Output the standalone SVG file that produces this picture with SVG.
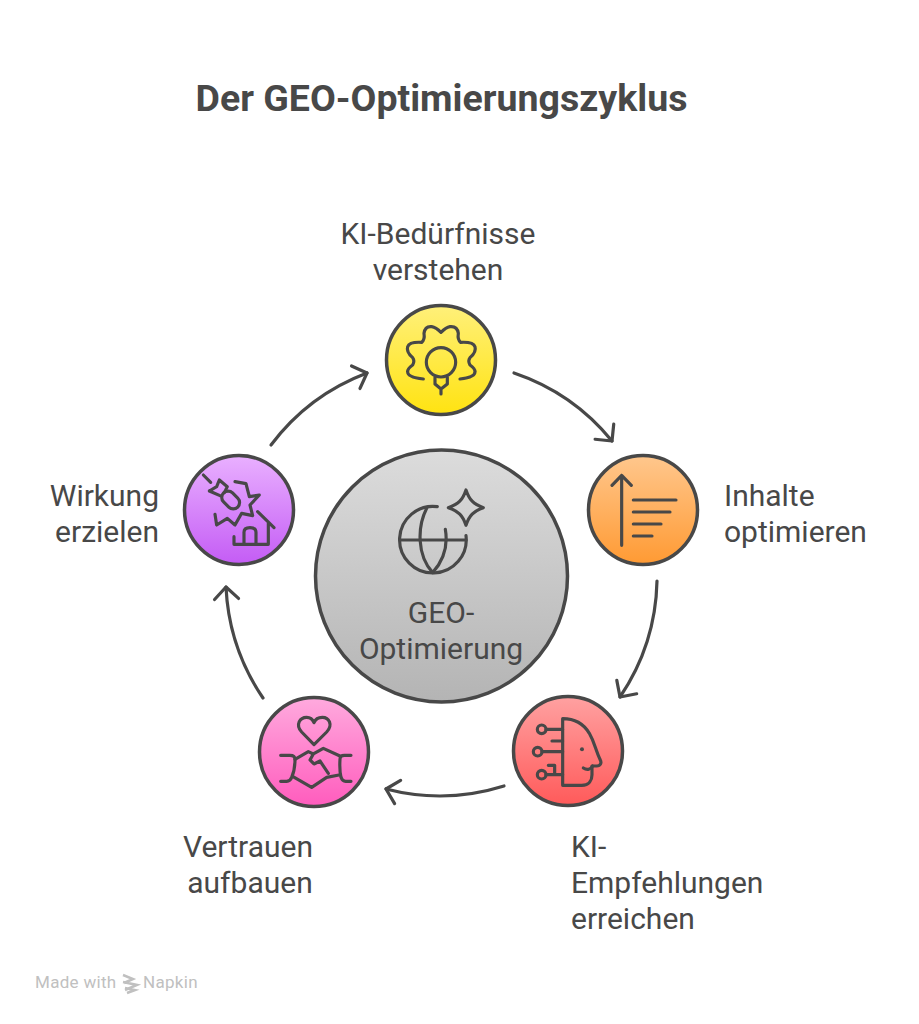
<svg xmlns="http://www.w3.org/2000/svg" width="919" height="1024" viewBox="0 0 919 1024">
<style>
.lb{font-family:Roboto,"Liberation Sans",sans-serif;font-size:30px;font-weight:400;fill:#484848}
.ttl{font-family:Roboto,"Liberation Sans",sans-serif;font-size:37.5px;font-weight:700;fill:#484848}
.ring{stroke:#484848;stroke-width:3.5}
.ic{fill:none;stroke:#484848;stroke-width:9.5;stroke-linecap:round;stroke-linejoin:round}
.cn{fill:none;stroke:#484848;stroke-width:3.2;stroke-linecap:round}
.wm{font-family:Roboto,"Liberation Sans",sans-serif;font-size:17px;fill:#c0c0c0;letter-spacing:.3px}
</style>
<defs>
<linearGradient id="gy" x1="0" y1="0" x2="0" y2="1"><stop offset="0" stop-color="#fff07a"/><stop offset="1" stop-color="#ffe311"/></linearGradient>
<linearGradient id="go" x1="0" y1="0" x2="0" y2="1"><stop offset="0" stop-color="#ffc78d"/><stop offset="1" stop-color="#ff9a33"/></linearGradient>
<linearGradient id="gr" x1="0" y1="0" x2="0" y2="1"><stop offset="0" stop-color="#ffa1a1"/><stop offset="1" stop-color="#ff5a5a"/></linearGradient>
<linearGradient id="gp" x1="0" y1="0" x2="0" y2="1"><stop offset="0" stop-color="#ffaade"/><stop offset="1" stop-color="#ff5cbd"/></linearGradient>
<linearGradient id="gv" x1="0" y1="0" x2="0" y2="1"><stop offset="0" stop-color="#e9b0ff"/><stop offset="1" stop-color="#c45cf5"/></linearGradient>
<linearGradient id="gc" x1="0" y1="0" x2="0" y2="1"><stop offset="0" stop-color="#dcdcdc"/><stop offset="1" stop-color="#b4b4b4"/></linearGradient>
<marker id="ah" markerUnits="userSpaceOnUse" markerWidth="30" markerHeight="30" refX="15" refY="15" orient="auto"><path d="M3 3L15 15L3 27" fill="none" stroke="#484848" stroke-width="3.2" stroke-linecap="round" stroke-linejoin="round"/></marker>
</defs>
<rect width="919" height="1024" fill="#fff"/>
<text class="ttl" x="441.500" y="111" text-anchor="middle">Der GEO-Optimierungszyklus</text>
<g id="connectors">
<path class="cn" marker-end="url(#ah)" d="M271 445A215 215 0 0 1 367 373"/>
<path class="cn" marker-end="url(#ah)" d="M514 373A215 215 0 0 1 612 441"/>
<path class="cn" marker-end="url(#ah)" d="M657 581A215 215 0 0 1 620 697"/>
<path class="cn" marker-end="url(#ah)" d="M504 786A215 215 0 0 1 386 789"/>
<path class="cn" marker-end="url(#ah)" d="M263 698A215 215 0 0 1 226 587"/>
</g>
<g id="center">
<circle class="ring" cx="441.500" cy="576" r="126" fill="url(#gc)"/>
<g transform="translate(380 470) scale(.3333)">
<path class="ic" d="M258 60C268 90 280 102 310 113C280 124 268 136 258 166C248 136 236 124 205 113C236 102 248 90 258 60Z"/>
<path class="ic" d="M258 197A100 100 0 1 1 172 110"/>
<path class="ic" d="M60 210H258"/>
<path class="ic" d="M140 115C112 170 110 255 158 308C192 270 205 230 196 178"/>
</g>
<text class="lb" x="441" y="623" text-anchor="middle">GEO-</text>
<text class="lb" x="441" y="659" text-anchor="middle">Optimierung</text>
</g>
<g id="n1">
<circle class="ring" cx="441" cy="360" r="54.500" fill="url(#gy)"/>
<g transform="translate(370 290) scale(.3333)">
<circle class="ic" cx="213" cy="217" r="44"/>
<path class="ic" d="M195 262V282L213 297L232 282V262M213 297V312"/>
<path class="ic" d="M160 267Q112 262 113 245Q113 235 128 225Q135 212 128 203Q108 185 113 170Q118 155 155 157Q165 150 162 130Q165 108 185 110Q198 112 213 127Q228 112 240 110Q262 108 265 130Q262 150 272 157Q310 155 315 170Q320 185 300 203Q293 212 300 225Q315 235 315 245Q316 262 270 267"/>
</g>
<text class="lb" x="438" y="244" text-anchor="middle">KI-Bedürfnisse</text>
<text class="lb" x="438" y="280" text-anchor="middle">verstehen</text>
</g>
<g id="n2">
<circle class="ring" cx="643" cy="510" r="54.500" fill="url(#go)"/>
<g transform="translate(570 450) scale(.3333)">
<path class="ic" d="M155 286V76M126 106L155 76L184 106M190 150H318M190 186H300M190 222H273M190 258H246"/>
</g>
<text class="lb" x="724" y="506">Inhalte</text>
<text class="lb" x="724" y="542">optimieren</text>
</g>
<g id="n3">
<circle class="ring" cx="568" cy="751" r="54.500" fill="url(#gr)"/>
<g transform="translate(500 680) scale(.3333)">
<path class="ic" d="M188 116V316H245C268 316 276 300 276 284V258H290C302 258 306 248 300 238C285 205 285 190 268 160C250 130 222 116 188 116Z"/>
<path class="ic" d="M250 264C262 272 272 268 278 258"/>
<circle cx="246" cy="208" r="6" fill="#484848"/>
<circle class="ic" cx="125" cy="148" r="13"/><circle class="ic" cx="113" cy="215" r="13"/><circle class="ic" cx="125" cy="284" r="13"/>
<path class="ic" d="M138 148H188M156 183H188M126 215H188M138 284H188M145 256H164V284"/>
</g>
<text class="lb" x="571" y="857">KI-</text>
<text class="lb" x="571" y="893">Empfehlungen</text>
<text class="lb" x="571" y="929">erreichen</text>
</g>
<g id="n4">
<circle class="ring" cx="314" cy="752" r="54.500" fill="url(#gp)"/>
<g transform="translate(245 680) scale(.3333)">
<path class="ic" d="M207 194L170 156C150 134 165 112 185 112C195 112 203 118 207 128C211 118 220 112 232 112C252 112 265 134 245 156Z"/>
<path class="ic" d="M107 226H135Q150 226 150 238Q150 270 140 292Q136 304 125 304H107"/>
<path class="ic" d="M318 226H298Q285 226 285 238Q283 270 288 292Q292 304 302 304H318"/>
<path class="ic" d="M150 238L190 215L205 222L195 240L207 252L225 243L250 280M205 222L235 205L285 228M144 290L200 322L245 292L282 285"/>
</g>
<text class="lb" x="248" y="857" text-anchor="middle">Vertrauen</text>
<text class="lb" x="250" y="893" text-anchor="middle">aufbauen</text>
</g>
<g id="n5">
<circle class="ring" cx="239" cy="510" r="54.500" fill="url(#gv)"/>
<g transform="translate(170 445) scale(.3333)">
<path class="ic" d="M100 90L122 112M118 138L140 125L148 105L172 125L163 143M118 138L150 152"/>
<rect class="ic" x="152" y="146" width="60" height="38" rx="19" transform="rotate(45 182 165)"/>
<path class="ic" d="M195 110L228 116L238 155L268 150L240 180L248 212L215 205L195 240L172 220L140 240L135 208"/>
<path class="ic" d="M263 200L312 248M192 275V298H295V235M222 298V262Q222 248 240 248Q258 248 258 262V298"/>
</g>
<text class="lb" x="159" y="506" text-anchor="end">Wirkung</text>
<text class="lb" x="159" y="542" text-anchor="end">erzielen</text>
</g>
<g id="watermark">
<text class="wm" x="35" y="988">Made with</text>
<path d="M123 975L133 979L124 983M123 982L137 985L125 990M125 988L135 990L127 993" fill="none" stroke="#c0c0c0" stroke-width="2.500"/>
<text class="wm" x="143" y="988">Napkin</text>
</g>
</svg>
